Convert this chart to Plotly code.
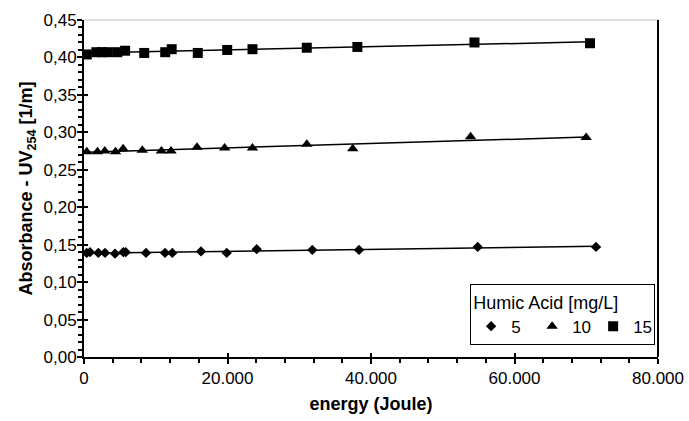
import numpy as np
import plotly.graph_objects as go

# Data
energy_5 = [376, 836, 1993, 2927, 4321, 5477, 5812, 8641, 11289, 12306, 16307, 19889, 24070, 31819, 38328, 54871, 71359]
abs_5 = [0.139, 0.140, 0.139, 0.139, 0.138, 0.140, 0.140, 0.139, 0.139, 0.139, 0.141, 0.139, 0.144, 0.143, 0.143, 0.147, 0.147]

energy_10 = [390, 1880, 2900, 4390, 5450, 8125, 10790, 12125, 15750, 19600, 23480, 31050, 37460, 53880, 69990]
abs_10 = [0.274, 0.274, 0.275, 0.274, 0.278, 0.276, 0.275, 0.275, 0.280, 0.279, 0.279, 0.284, 0.278, 0.294, 0.293]

energy_15 = [390, 1730, 2520, 3320, 4650, 5730, 8390, 11320, 12220, 15860, 19960, 23480, 31050, 38100, 54420, 70520]
abs_15 = [0.404, 0.407, 0.407, 0.407, 0.407, 0.409, 0.406, 0.407, 0.411, 0.406, 0.410, 0.411, 0.413, 0.414, 0.420, 0.419]

series_names = ["5", "10", "15"]
series_symbols = ["diamond", "triangle-up", "square"]
series_sizes = [8, 10, 10]

x_ticks = [0, 20000, 40000, 60000, 80000]
y_ticks = [0.00, 0.05, 0.10, 0.15, 0.20, 0.25, 0.30, 0.35, 0.40, 0.45]

FONT = "Arial, Liberation Sans, sans-serif"

fig = go.Figure()

datasets = [(energy_5, abs_5), (energy_10, abs_10), (energy_15, abs_15)]
for (xs, ys), name, sym, size in zip(datasets, series_names, series_symbols, series_sizes):
    xs_a = np.array(xs, dtype=float)
    ys_a = np.array(ys, dtype=float)
    slope, intercept = np.polyfit(xs_a, ys_a, 1)
    xl = np.array([xs_a.min(), xs_a.max()])
    fig.add_trace(go.Scatter(
        x=xl, y=slope * xl + intercept, mode="lines",
        line=dict(color="black", width=1.5), showlegend=False, hoverinfo="skip"))
    fig.add_trace(go.Scatter(
        x=xs, y=ys, mode="markers", name=name,
        marker=dict(symbol=sym, size=size, color="black", line=dict(width=0))))

axis_common = dict(showgrid=False, zeroline=False)

fig.update_layout(
    width=689, height=421,
    margin=dict(l=84, r=31, t=20, b=64),
    paper_bgcolor="white", plot_bgcolor="white",
    separators=",.",
    font=dict(family=FONT, size=17, color="black"),
    xaxis=dict(
        **axis_common, range=[0, 80000], tickvals=x_ticks, tickformat=",.0f",
        automargin=False,
        showline=True, linecolor="black", linewidth=2,
        ticks="outside", ticklen=5, tickwidth=2, tickcolor="black",
        minor=dict(dtick=4000, ticks="outside", ticklen=4, tickwidth=1.5, tickcolor="black"),
        tickfont=dict(size=17),
        title=dict(text="<b>energy (Joule)</b>", font=dict(size=18), standoff=10),
    ),
    yaxis=dict(
        **axis_common, range=[0, 0.45], tickvals=y_ticks, tickformat=".2f",
        automargin=False, ticklabelstandoff=-3,
        showline=True, linecolor="black", linewidth=2,
        ticks="outside", ticklen=5, tickwidth=2, tickcolor="black",
        minor=dict(dtick=0.01, ticks="outside", ticklen=4, tickwidth=1.5, tickcolor="black"),
        tickfont=dict(size=17),
        title=dict(text="<b>Absorbance - UV<sub>254</sub> [1/m]</b>", font=dict(size=18), standoff=6),
    ),
    xaxis2=dict(
        **axis_common, overlaying="x", anchor="y", side="bottom", range=[0, 80000],
        tickvals=x_ticks, showticklabels=False, ticks="inside", ticklen=4, tickwidth=2,
        tickcolor="black", showline=False, automargin=False,
    ),
    yaxis2=dict(
        **axis_common, overlaying="y", anchor="x", side="left", range=[0, 0.45],
        tickvals=y_ticks, showticklabels=False, ticks="inside", ticklen=4, tickwidth=2,
        tickcolor="black", showline=False, automargin=False,
    ),
    legend=dict(
        orientation="h", x=0.995, xanchor="right", y=0.035, yanchor="bottom",
        bgcolor="white", bordercolor="black", borderwidth=1,
        font=dict(size=17), itemwidth=30, entrywidth=16,
        title=dict(text="Humic Acid [mg/L]", side="top", font=dict(size=18)),
    ),
    shapes=[
        dict(type="line", xref="paper", yref="paper", x0=0, x1=1, y0=1, y1=1,
             line=dict(color="#d4d4d4", width=1.5)),
        dict(type="line", xref="paper", yref="paper", x0=1, x1=1, y0=0, y1=1,
             line=dict(color="black", width=2)),
    ],
)

# invisible helper trace so the inside-tick axes render
fig.add_trace(go.Scatter(x=[None], y=[None], xaxis="x2", yaxis="y2", showlegend=False, hoverinfo="skip"))

fig.write_html("out.html")
